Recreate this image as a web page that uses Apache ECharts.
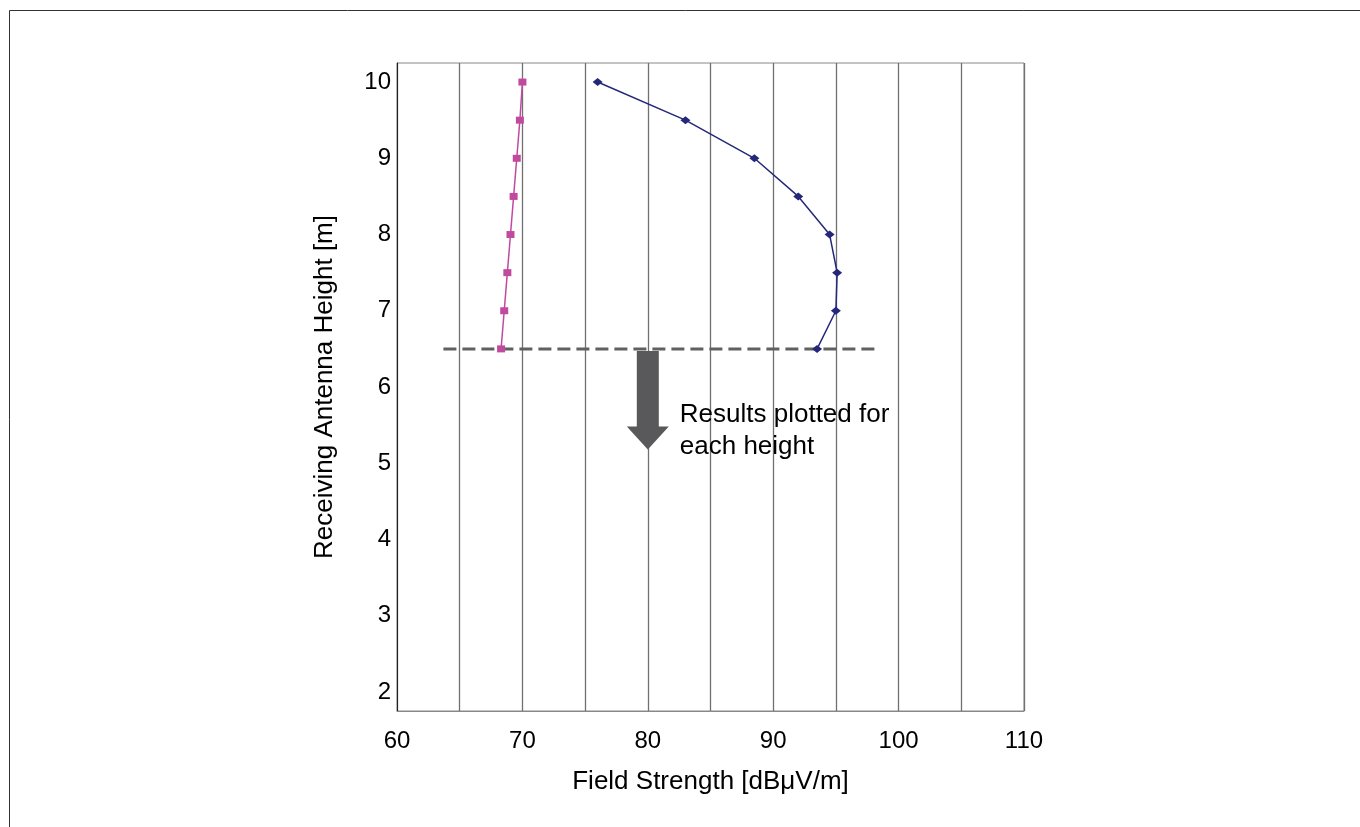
<!DOCTYPE html>
<html>
<head>
<meta charset="utf-8">
<script src="https://cdn.jsdelivr.net/npm/echarts@6/dist/echarts.min.js"></script>
<style>
  html, body { margin: 0; padding: 0; background: #fff; }
  #chart { width: 1360px; height: 827px; }
</style>
</head>
<body>
<div id="chart"></div>
<script>
// Receiving antenna heights [m]
const heights = [10, 9.5, 9, 8.5, 8, 7.5, 7, 6.5];
// Field strength [dBμV/m] for each height
const fieldLow = [70, 69.8, 69.55, 69.3, 69.05, 68.8, 68.55, 68.3];
const fieldHigh = [76, 83, 88.5, 92, 94.5, 95.1, 95, 93.5];
// Cut-off height and the span of the dashed reference line
const cutHeight = 6.5;
const cutSpan = [63.7, 98.3];
// Arrow annotation: x position and end height
const arrowX = 80;
const arrowEnd = 5.18;
const noteLines = ['Results plotted for', 'each height'];

const FONT = 'Liberation Sans, Arial, sans-serif';
const chart = echarts.init(document.getElementById('chart'));

const pairs = (xs, ys) => xs.map((x, i) => [x, ys[i]]);

chart.setOption({
  animation: false,
  backgroundColor: '#fff',
  grid: {
    left: 397, right: 336, top: 63, bottom: 116,
    show: true, borderColor: '#888', borderWidth: 1, backgroundColor: 'transparent'
  },
  xAxis: {
    type: 'value', min: 60, max: 110, interval: 5,
    name: 'Field Strength [dBμV/m]', nameLocation: 'middle', nameGap: 58,
    nameTextStyle: { fontFamily: FONT, fontSize: 26, color: '#000' },
    axisLine: { show: true, lineStyle: { color: '#888', width: 1 } },
    axisTick: { show: false },
    axisLabel: {
      margin: 18, fontFamily: FONT, fontSize: 24, color: '#000',
      formatter: v => (v % 10 === 0 ? String(v) : '')
    },
    splitLine: { show: true, lineStyle: { color: '#707070', width: 1.3 } }
  },
  yAxis: {
    type: 'value', min: 1.75, max: 10.25, interval: 0.25,
    name: 'Receiving Antenna Height [m]', nameLocation: 'middle', nameGap: 59,
    nameTextStyle: { fontFamily: FONT, fontSize: 26, color: '#000' },
    axisLine: { show: true, lineStyle: { color: '#222', width: 1 } },
    axisTick: { show: false },
    axisLabel: {
      margin: 6, fontFamily: FONT, fontSize: 24, color: '#000',
      formatter: v => (Math.abs(v - Math.round(v)) < 1e-9 ? String(Math.round(v)) : '')
    },
    splitLine: { show: false }
  },
  series: [
    {
      type: 'line', data: pairs(cutSpan, [cutHeight, cutHeight]),
      symbol: 'none', silent: true, z: 1,
      lineStyle: { color: '#606060', width: 3, type: [13, 6] }
    },
    {
      type: 'line', data: pairs(fieldLow, heights), z: 3,
      symbol: 'rect', symbolSize: [8, 7],
      itemStyle: { color: '#c04a9e' },
      lineStyle: { color: '#c04a9e', width: 1.5 }
    },
    {
      type: 'line', data: pairs(fieldHigh, heights), z: 3,
      symbol: 'diamond', symbolSize: [10, 8],
      itemStyle: { color: '#25287a' },
      lineStyle: { color: '#25287a', width: 1.5 }
    }
  ]
});

function drawAnnotations() {
  const top = chart.convertToPixel({ gridIndex: 0 }, [arrowX, cutHeight]);
  const tip = chart.convertToPixel({ gridIndex: 0 }, [arrowX, arrowEnd]);
  const cx = top[0];
  const shaftHalf = 11, headHalf = 21, headLen = 23;
  const headStart = tip[1] - headLen;
  chart.setOption({
    graphic: [
      {
        type: 'rect', silent: true,
        shape: { x: 9.5, y: 10.5, width: 1400, height: 900 },
        style: { fill: 'none', stroke: '#333', lineWidth: 1 }
      },
      {
        type: 'polygon', silent: true, z: 10,
        shape: {
          points: [
            [cx - shaftHalf, top[1] + 2], [cx + shaftHalf, top[1] + 2],
            [cx + shaftHalf, headStart], [cx + headHalf, headStart],
            [cx, tip[1]],
            [cx - headHalf, headStart], [cx - shaftHalf, headStart]
          ]
        },
        style: { fill: '#59595b' }
      },
      {
        type: 'text', silent: true, z: 10,
        x: cx + 32, y: top[1] + 50,
        style: {
          text: noteLines.join('\n'), fontFamily: FONT, fontSize: 26,
          lineHeight: 32, fill: '#000', verticalAlign: 'top'
        }
      }
    ]
  });
}
drawAnnotations();
</script>
</body>
</html>
